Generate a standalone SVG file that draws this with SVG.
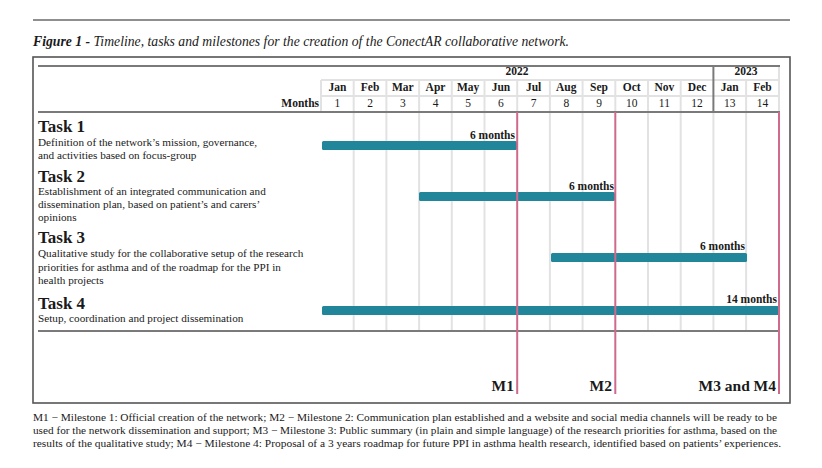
<svg xmlns="http://www.w3.org/2000/svg" width="822" height="468" viewBox="0 0 822 468">
<style>
text{font-family:"Liberation Serif","DejaVu Serif",serif;fill:#1a1a1a}
.title{font-size:14px;font-style:italic}
.b{font-weight:bold}
.hdr{font-size:11.5px;font-weight:bold}
.num{font-size:11.5px}
.task{font-size:17px;font-weight:bold}
.desc{font-size:11.2px}
.lab{font-size:11.5px;font-weight:bold}
.ms{font-size:15.5px;font-weight:bold}
.foot{font-size:11px}
.grid{stroke:#e2e2e2;stroke-width:2}
.dark{stroke:#7a7a7a;stroke-width:2}
.bar{fill:#21869a}
.mile{stroke:#cf6a8a;stroke-width:2}
</style>
<rect width="822" height="468" fill="#fff"/>
<line x1="33" y1="20" x2="790" y2="20" stroke="#6a6a6a" stroke-width="1.5"/>
<text class="title" x="33" y="46" textLength="536" lengthAdjust="spacingAndGlyphs"><tspan class="b">Figure 1 -</tspan> Timeline, tasks and milestones for the creation of the ConectAR collaborative network.</text>
<rect x="33" y="57" width="757" height="346" fill="none" stroke="#555" stroke-width="1.6"/>
<g id="grid">
<line class="grid" x1="321" y1="80" x2="779" y2="80"/>
<line class="grid" x1="321" y1="96" x2="779" y2="96"/>
<g class="grid">
<line x1="353.7" y1="80" x2="353.7" y2="331"/>
<line x1="386.4" y1="80" x2="386.4" y2="331"/>
<line x1="419.1" y1="80" x2="419.1" y2="331"/>
<line x1="451.8" y1="80" x2="451.8" y2="331"/>
<line x1="484.5" y1="80" x2="484.5" y2="331"/>
<line x1="549.9" y1="80" x2="549.9" y2="331"/>
<line x1="582.6" y1="80" x2="582.6" y2="331"/>
<line x1="648" y1="80" x2="648" y2="331"/>
<line x1="680.7" y1="80" x2="680.7" y2="331"/>
<line x1="713.4" y1="112" x2="713.4" y2="331"/>
<line x1="746.1" y1="80" x2="746.1" y2="331"/>
<line x1="517.2" y1="80" x2="517.2" y2="112"/>
<line x1="615.3" y1="80" x2="615.3" y2="112"/>
<line x1="779" y1="66" x2="779" y2="112"/>
<line x1="321" y1="80" x2="321" y2="112"/>
</g>
<line class="dark" x1="38" y1="66" x2="780" y2="66"/>
<line class="dark" x1="38" y1="112" x2="780" y2="112"/>
<line class="dark" x1="38" y1="331" x2="780" y2="331"/>
<line class="dark" x1="713.4" y1="66" x2="713.4" y2="112"/>
</g>
<g id="header">
<text class="hdr" x="517" y="75" text-anchor="middle">2022</text>
<text class="hdr" x="746" y="75" text-anchor="middle">2023</text>
<g class="hdr" text-anchor="middle">
<text x="337.4" y="91">Jan</text><text x="370.1" y="91">Feb</text><text x="402.8" y="91">Mar</text><text x="435.5" y="91">Apr</text><text x="468.2" y="91">May</text><text x="500.9" y="91">Jun</text><text x="533.6" y="91">Jul</text><text x="566.3" y="91">Aug</text><text x="599" y="91">Sep</text><text x="631.7" y="91">Oct</text><text x="664.4" y="91">Nov</text><text x="697.1" y="91">Dec</text><text x="729.8" y="91">Jan</text><text x="762.5" y="91">Feb</text>
</g>
<text class="hdr" x="319" y="107" text-anchor="end">Months</text>
<g class="num" text-anchor="middle">
<text x="337.4" y="107">1</text><text x="370.1" y="107">2</text><text x="402.8" y="107">3</text><text x="435.5" y="107">4</text><text x="468.2" y="107">5</text><text x="500.9" y="107">6</text><text x="533.6" y="107">7</text><text x="566.3" y="107">8</text><text x="599" y="107">9</text><text x="631.7" y="107">10</text><text x="664.4" y="107">11</text><text x="697.1" y="107">12</text><text x="729.8" y="107">13</text><text x="762.5" y="107">14</text>
</g>
</g>
<g id="task1">
<text class="task" x="38" y="132">Task 1</text>
<text class="desc" x="38" y="146">Definition of the network’s mission, governance,</text>
<text class="desc" x="38" y="159">and activities based on focus-group</text>
<rect class="bar" x="322" y="141" width="195" height="9" rx="1.5"/>
<text class="lab" x="515" y="139" text-anchor="end">6 months</text>
</g>
<g id="task2">
<text class="task" x="38" y="182">Task 2</text>
<text class="desc" x="38" y="195">Establishment of an integrated communication and</text>
<text class="desc" x="38" y="208">dissemination plan, based on patient’s and carers’</text>
<text class="desc" x="38" y="221">opinions</text>
<rect class="bar" x="419" y="192" width="196" height="9" rx="1.5"/>
<text class="lab" x="614" y="190" text-anchor="end">6 months</text>
</g>
<g id="task3">
<text class="task" x="38" y="243">Task 3</text>
<text class="desc" x="38" y="257">Qualitative study for the collaborative setup of the research</text>
<text class="desc" x="38" y="271">priorities for asthma and of the roadmap for the PPI in</text>
<text class="desc" x="38" y="284">health projects</text>
<rect class="bar" x="551" y="253" width="196" height="9" rx="1.5"/>
<text class="lab" x="745" y="250" text-anchor="end">6 months</text>
</g>
<g id="task4">
<text class="task" x="38" y="309">Task 4</text>
<text class="desc" x="38" y="322">Setup, coordination and project dissemination</text>
<rect class="bar" x="322" y="306" width="457" height="9" rx="1.5"/>
<text class="lab" x="777" y="303" text-anchor="end">14 months</text>
</g>
<g id="milestones">
<line class="mile" x1="517.2" y1="112" x2="517.2" y2="394"/>
<line class="mile" x1="615.3" y1="112" x2="615.3" y2="394"/>
<line class="mile" x1="779" y1="112" x2="779" y2="394"/>
<text class="ms" x="514" y="391" text-anchor="end">M1</text>
<text class="ms" x="612" y="391" text-anchor="end">M2</text>
<text class="ms" x="776" y="391" text-anchor="end">M3 and M4</text>
</g>
<g id="footnote" class="foot">
<text class="foot" x="33" y="421" textLength="744" lengthAdjust="spacingAndGlyphs">M1 − Milestone 1: Official creation of the network; M2 − Milestone 2: Communication plan established and a website and social media channels will be ready to be</text>
<text class="foot" x="33" y="434" textLength="744" lengthAdjust="spacingAndGlyphs">used for the network dissemination and support; M3 − Milestone 3: Public summary (in plain and simple language) of the research priorities for asthma, based on the</text>
<text class="foot" x="33" y="447" textLength="748" lengthAdjust="spacingAndGlyphs">results of the qualitative study; M4 − Milestone 4: Proposal of a 3 years roadmap for future PPI in asthma health research, identified based on patients’ experiences.</text>
</g>
</svg>
